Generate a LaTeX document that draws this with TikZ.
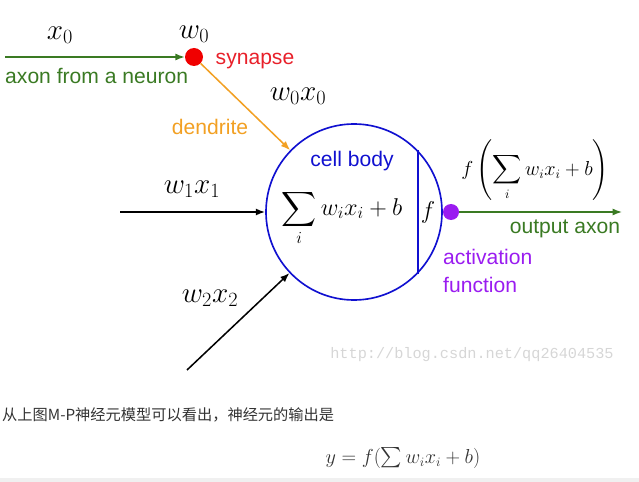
\documentclass[tikz,border=0pt]{standalone}
\definecolor{NGreen}{HTML}{3A7A23}
\definecolor{NRed}{HTML}{F00000}
\definecolor{NRedText}{HTML}{E8202A}
\definecolor{NOrange}{HTML}{F2A023}
\definecolor{NBlue}{HTML}{1010D0}
\definecolor{NPurple}{HTML}{9A1CF0}
\definecolor{NInk}{HTML}{333333}
\definecolor{NMark}{HTML}{D6D6D6}
\usepackage{amsmath}
\usepackage{exscale}
\usepackage{fontspec}
\setmainfont{Liberation Sans}
\setmonofont{Liberation Mono}
\newfontfamily\cjk{Noto Sans CJK SC}
\usepackage{tikz}
\usetikzlibrary{arrows.meta,positioning,calc}
\newcommand{\bigmath}[1]{{\fontsize{26}{30}\selectfont$#1$}}
\tikzset{
  lbl/.style={font=\fontsize{18}{21}\selectfont,inner sep=0pt},
  mlbl/.style={inner sep=0pt},
  dot/.style={circle,inner sep=0pt,minimum size=#1},
  wire/.style={line width=1.3pt,-{Latex[length=8pt,width=6pt]}}
}
\begin{document}
\begin{tikzpicture}[x=0.03cm,y=-0.03cm]
  \useasboundingbox (0,0) rectangle (639,482);
  % cell body and the two dots
  \node[circle,draw=NBlue,line width=1.4pt,minimum size=5.28cm,inner sep=0pt] (cell) at (354,212) {};
  \draw[NBlue,line width=1.4pt] (cell.44) -- (cell.-44);
  \node[dot=0.54cm,fill=NRed] (syn) at (194,57) {};
  \node[dot=0.48cm,fill=NPurple] (act) at (451,212) {};
  \coordinate (axin) at (5,57);
  \coordinate (axout) at (622,212);
  \coordinate (in1) at (120,212);
  \coordinate (in2) at (187,370);
  \draw[wire,NGreen] (axin) -- (syn);
  \draw[wire,NOrange] (syn) -- (cell);
  \draw[wire,black] (in1) -- (cell);
  \draw[wire,black] (in2) -- (cell);
  \draw[wire,NGreen] (act) -- (axout);
  % labels
  \node[mlbl] (xzero) at (60,35) {\bigmath{x_0}};
  \node[mlbl] (wzero) at (194,34) {\bigmath{w_0}};
  \node[lbl,text=NRedText] (synlbl) at (255,61) {synapse};
  \node[lbl,text=NGreen,anchor=west] (axlbl) at (5,76) {axon from a neuron};
  \node[mlbl] (wx0) at (298,96) {\bigmath{w_0x_0}};
  \node[lbl,text=NOrange] (dlbl) at (210,127) {dendrite};
  \node[lbl,text=NBlue] (cblbl) at (352,161) {cell body};
  \node[mlbl] (sumlbl) at (342,218) {\fontsize{21}{25}\selectfont$\displaystyle\sum_i w_ix_i+b$};
  \node[mlbl] (flbl) at (428,212) {\fontsize{22}{26}\selectfont$f$};
  \node[mlbl] (outlbl) at (535,170) {\fontsize{16}{20}\selectfont$f\left(\displaystyle\sum_i w_ix_i+b\right)$};
  \node[lbl,text=NGreen] (oalbl) at (565,229) {output axon};
  \node[lbl,text=NPurple,anchor=north west,align=left] (aflbl) at (443,249) {activation\\[3pt]function};
  \node[mlbl] (wx1) at (192,189) {\bigmath{w_1x_1}};
  \node[mlbl] (wx2) at (210,298) {\bigmath{w_2x_2}};
  \node[mlbl,text=NMark] (mark) at (472,355) {\fontsize{13}{15}\selectfont\ttfamily http://blog.csdn.net/qq26404535};
  % text under the picture
  \node[mlbl,text=NInk,anchor=west] (cntxt) at (2,415) {\fontsize{13}{16}\selectfont\cjk 从上图M-P神经元模型可以看出，神经元的输出是};
  \node[mlbl,text=NInk] (yout) at (403,458) {\fontsize{16}{19}\selectfont$y=f(\sum w_ix_i+b)$};
  \fill[black!6] (0,478) rectangle (639,482);
\end{tikzpicture}
\end{document}
